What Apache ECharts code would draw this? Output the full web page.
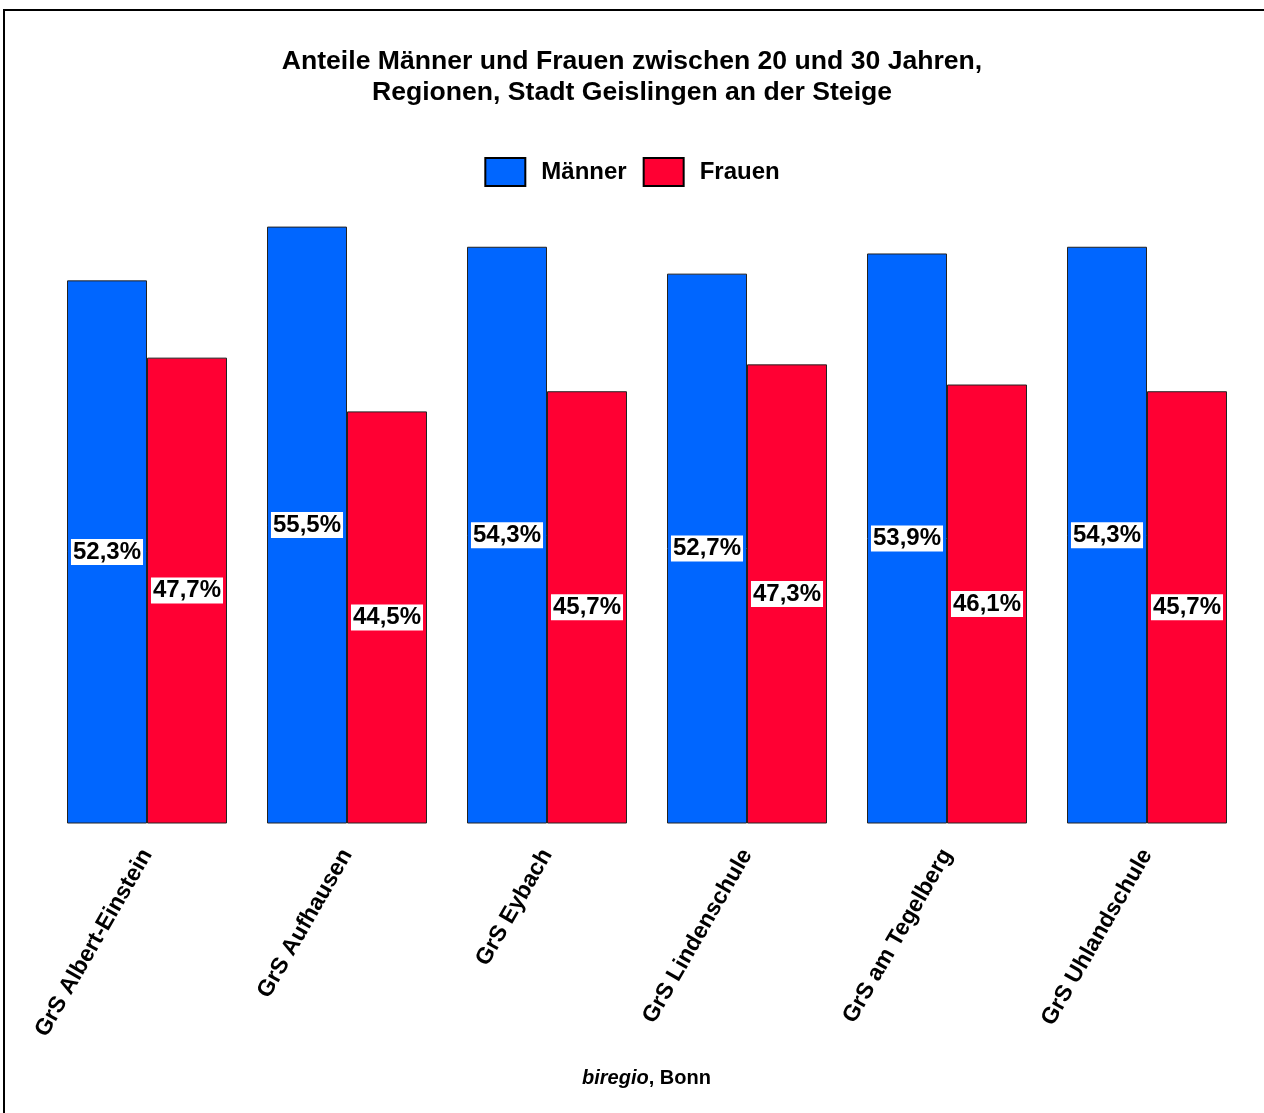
<!DOCTYPE html>
<html>
<head>
<meta charset="utf-8">
<script src="https://cdn.jsdelivr.net/npm/echarts@6/dist/echarts.min.js"></script>
<style>
html,body{margin:0;padding:0;background:#fff;}
#c{width:1264px;height:1113px;}
</style>
</head>
<body>
<div id="c"></div>
<script>
var categories = ['GrS Albert-Einstein','GrS Aufhausen','GrS Eybach','GrS Lindenschule','GrS am Tegelberg','GrS Uhlandschule'];
var maenner = [52.3, 55.5, 54.3, 52.7, 53.9, 54.3];
var frauen = [47.7, 44.5, 45.7, 47.3, 46.1, 45.7];
var seriesNames = ['Männer', 'Frauen'];

var FONT = '"Liberation Sans", Arial, sans-serif';
function fmt(p){ return p.value.toFixed(1).replace('.', ',') + '%'; }
var labelStyle = {
  show: true, position: 'inside', formatter: fmt,
  color: '#000', fontWeight: 'bold', fontSize: 24, fontFamily: FONT,
  backgroundColor: '#fff', padding: [2, 2, 0, 2]
};

var chart = echarts.init(document.getElementById('c'));
chart.setOption({
  animation: false,
  backgroundColor: '#fff',
  title: {
    text: 'Anteile Männer und Frauen zwischen 20 und 30 Jahren,\nRegionen, Stadt Geislingen an der Steige',
    left: 'center', top: 41,
    textStyle: { fontFamily: FONT, fontWeight: 'bold', fontSize: 26.6, lineHeight: 31, color: '#000' }
  },
  legend: {
    top: 152, left: 'center', itemWidth: 40, itemHeight: 28, itemGap: 16, icon: 'rect',
    textStyle: { fontFamily: FONT, fontWeight: 'bold', fontSize: 24, color: '#000', padding: [0,0,0,11] },
    itemStyle: { borderColor: '#000', borderWidth: 2 },
    data: seriesNames
  },
  grid: { left: 47, right: 17, top: 151, bottom: 290, containLabel: false },
  xAxis: {
    type: 'category', data: categories,
    axisLine: { show: false }, axisTick: { show: false },
    axisLabel: { rotate: 60, margin: 28, interval: 0, fontFamily: FONT, fontWeight: 'bold', fontSize: 23, color: '#000' }
  },
  yAxis: { type: 'value', min: 20, max: 60, show: false, splitLine: { show: false } },
  series: [
    { name: seriesNames[0], type: 'bar', data: maenner, barGap: '0%', barCategoryGap: '20%',
      itemStyle: { color: '#0066FF', borderColor: '#222', borderWidth: 1 }, label: labelStyle },
    { name: seriesNames[1], type: 'bar', data: frauen,
      itemStyle: { color: '#FF0033', borderColor: '#222', borderWidth: 1 }, label: labelStyle }
  ],
  graphic: [
    { type: 'rect', shape: { x: 4, y: 10, width: 1280, height: 1120 }, style: { fill: 'none', stroke: '#000', lineWidth: 2 }, silent: true },
    { type: 'text', left: 582, top: 1068,
      style: { text: '{i|biregio}{n|, Bonn}', rich: {
        i: { fontFamily: FONT, fontStyle: 'italic', fontWeight: 'bold', fontSize: 20, fill: '#000' },
        n: { fontFamily: FONT, fontWeight: 'bold', fontSize: 20, fill: '#000' } } } }
  ]
});
</script>
</body>
</html>
